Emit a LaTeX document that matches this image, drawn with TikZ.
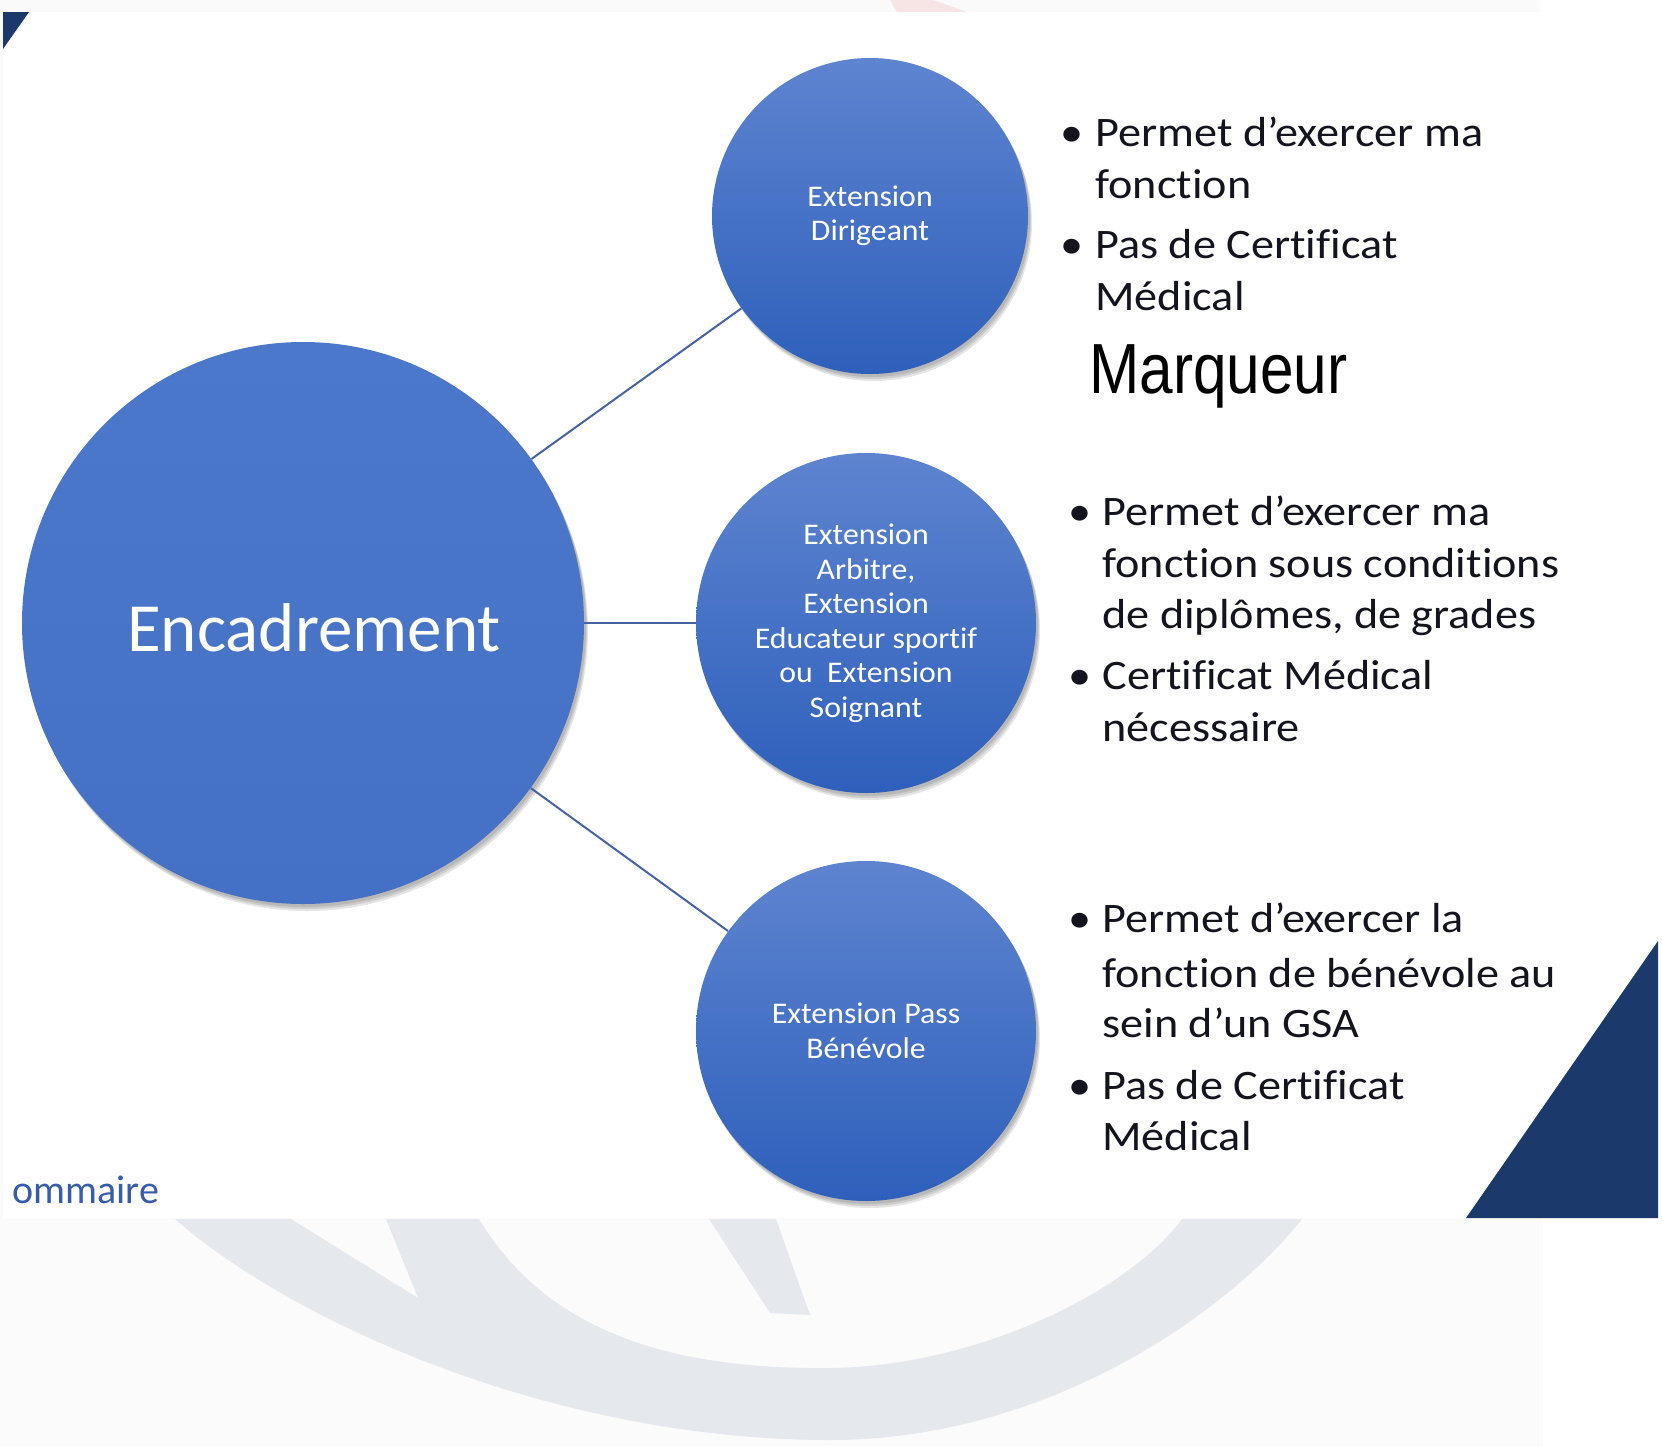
\documentclass[tikz,border=0pt]{standalone}
\usepackage{fontspec}
\setmainfont[Ligatures=NoCommon]{Carlito}
\newfontfamily\circfont[FakeStretch=1.06, Ligatures=NoCommon]{Carlito}
\newfontfamily\listfont[FakeStretch=1.1, Ligatures=NoCommon]{Carlito}
\newfontfamily\marqfont[FakeStretch=0.85]{Liberation Sans}
\usetikzlibrary{shadows}

\definecolor{navy}{RGB}{28,57,108}
\definecolor{bubtop}{RGB}{94,132,208}
\definecolor{bubbot}{RGB}{46,96,187}
\definecolor{enctop}{RGB}{75,120,202}
\definecolor{encbot}{RGB}{68,113,197}
\definecolor{linkblue}{RGB}{70,100,165}
\definecolor{listdark}{RGB}{20,20,30}
\definecolor{somblue}{RGB}{54,92,170}
\definecolor{stripgrey}{RGB}{250,250,250}
\definecolor{bgpale}{RGB}{251,251,252}
\definecolor{wmgrey}{RGB}{229,232,237}
\definecolor{pinkish}{RGB}{247,228,228}

\tikzset{
	softshadow/.style={
		general shadow={fill=black, opacity=.1, shadow xshift=1pt, shadow yshift=-1.5pt},
		general shadow={fill=black, opacity=.1, shadow xshift=1.5pt, shadow yshift=-2.5pt},
		general shadow={fill=black, opacity=.1, shadow xshift=2pt, shadow yshift=-3.5pt}},
	bubble/.style={circle, inner sep=0, top color=bubtop, bottom color=bubbot, text=white,
		align=center, font=\circfont\fontsize{15}{17.25}\selectfont, softshadow},
	bigbubble/.style={circle, inner sep=0, minimum size=281pt, top color=enctop, bottom color=encbot, softshadow},
	bigtext/.style={inner sep=0, text=white, font=\fontsize{34.5}{40}\selectfont},
	link/.style={draw=linkblue, line width=1pt},
	listline/.style={anchor=base west, inner sep=0, text=listdark, font=\listfont\fontsize{21}{25}\selectfont},
}

\begin{document}
\begin{tikzpicture}[x=0.5pt, y=-0.5pt]
			%%%%% START %%%%%
			\useasboundingbox (0,0) rectangle (1662,1447);
			\fill[white] (0,0) rectangle (1662,1447);
			
			% slide edges
			\fill[stripgrey] (0,0) rectangle (1540,12);
			\fill[pinkish] (890,0) -- (933,0) -- (967,12) -- (897,12) -- cycle;
			\fill[stripgrey] (0,12) rectangle (3,1218);
			
			% watermark under the slide
			\begin{scope}
				\clip (0,1218) rectangle (1543,1447);
				\fill[bgpale] (0,1218) rectangle (1543,1447);
				\fill[wmgrey] (175,1219) .. controls (290,1320) and (550,1440) .. (830,1440)
					.. controls (1050,1440) and (1230,1310) .. (1302,1219) -- (1182,1219)
					.. controls (1130,1290) and (980,1366) .. (830,1368)
					.. controls (650,1370) and (540,1320) .. (479,1219) -- (386,1219) -- (418,1298) -- (291,1219) -- cycle;
				\fill[wmgrey] (709,1219) -- (776,1219) -- (810,1315) -- (770,1313) -- cycle;
			\end{scope}
			
			\fill[navy] (3,12) -- (29,12) -- (3,49) -- cycle;
			\fill[navy] (1658,941) -- (1658,1218) -- (1466,1218) -- cycle;
			
			\node[anchor=base west, inner sep=0, text=somblue, font=\fontsize{20}{24}\selectfont] (som) at (12,1203) {ommaire};
			
			% circles
			\node[bigbubble] (enc) at (303,623) {};
			\node[bigtext] (enctxt) at (314,628) {Encadrement};
			\node[bubble, minimum size=158pt] (dir) at (870,216) {Extension\\Dirigeant};
			\node[bubble, minimum size=170pt] (arb) at (866,623) {Extension\\Arbitre,\\Extension\\Educateur sportif\\ou~ Extension\\Soignant};
			\node[bubble, minimum size=170pt] (ben) at (866,1031) {Extension Pass\\Bénévole};
			
			\draw[link] (enc) -- (dir);
			\draw[link] (enc) -- (arb);
			\draw[link] (enc) -- (ben);
			
			% text on the right
			\node[listline] (p1) at (1060,146) {•};
			\node[listline] (l1a) at (1095,146) {Permet d’exercer ma};
			\node[listline] (l1b) at (1095,198) {fonction};
			\node[listline] (p2) at (1060,258) {•};
			\node[listline] (l2a) at (1095,258) {Pas de Certificat};
			\node[listline] (l2b) at (1095,310) {Médical};
			
			\node[anchor=base west, inner sep=0, font=\marqfont\fontsize{35.5}{40}\selectfont] (marq) at (1089,393) {Marqueur};
			
			\node[listline] (p3) at (1068,525) {•};
			\node[listline] (l3a) at (1102,525) {Permet d’exercer ma};
			\node[listline] (l3b) at (1102,577) {fonction sous conditions};
			\node[listline] (l3c) at (1102,628) {de diplômes, de grades};
			\node[listline] (p4) at (1068,689) {•};
			\node[listline] (l4a) at (1102,689) {Certificat Médical};
			\node[listline] (l4b) at (1102,741) {nécessaire};
			
			\node[listline] (p5) at (1068,932) {•};
			\node[listline] (l5a) at (1102,932) {Permet d’exercer la};
			\node[listline] (l5b) at (1102,987) {fonction de bénévole au};
			\node[listline] (l5c) at (1102,1037) {sein d’un GSA};
			\node[listline] (p6) at (1068,1099) {•};
			\node[listline] (l6a) at (1102,1099) {Pas de Certificat};
			\node[listline] (l6b) at (1102,1150) {Médical};
			%%%%% END %%%%%
\end{tikzpicture}
\end{document}
